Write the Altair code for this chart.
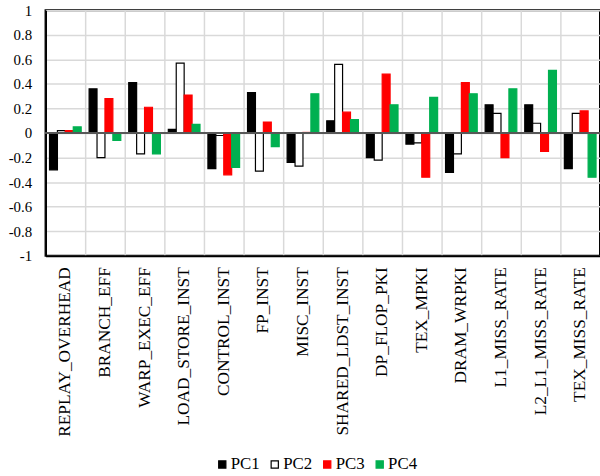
import altair as alt
import pandas as pd

# PCA loadings of GPU performance metrics on the first four principal components
metrics = [
    "REPLAY_OVERHEAD", "BRANCH_EFF", "WARP_EXEC_EFF", "LOAD_STORE_INST",
    "CONTROL_INST", "FP_INST", "MISC_INST", "SHARED_LDST_INST",
    "DP_FLOP_PKI", "TEX_MPKI", "DRAM_WRPKI", "L1_MISS_RATE",
    "L2_L1_MISS_RATE", "TEX_MISS_RATE",
]
pc1 = [-0.30, 0.36, 0.41, 0.03, -0.29, 0.33, -0.24, 0.10, -0.20, -0.09, -0.32, 0.23, 0.23, -0.29]
pc2 = [0.02, -0.20, -0.17, 0.57, -0.02, -0.31, -0.27, 0.56, -0.22, -0.08, -0.17, 0.16, 0.08, 0.16]
pc3 = [0.02, 0.28, 0.21, 0.31, -0.34, 0.09, 0.005, 0.17, 0.48, -0.36, 0.41, -0.20, -0.15, 0.18]
pc4 = [0.05, -0.06, -0.17, 0.07, -0.28, -0.11, 0.32, 0.11, 0.23, 0.29, 0.32, 0.36, 0.51, -0.36]

components = ["PC1", "PC2", "PC3", "PC4"]
fills = ["#000000", "#ffffff", "#ff0000", "#00b050"]
strokes = ["#000000", "#000000", "#ff0000", "#00b050"]
y_ticks = [-1, -0.8, -0.6, -0.4, -0.2, 0, 0.2, 0.4, 0.6, 0.8, 1]

rows = []
for comp, vals in zip(components, [pc1, pc2, pc3, pc4]):
    for m, v in zip(metrics, vals):
        rows.append({"metric": m, "component": comp, "loading": v})
df = pd.DataFrame(rows)

serif = "Liberation Serif"

legend_style = dict(
    title=None,
    orient="none",
    direction="horizontal",
    legendX=170,
    legendY=450,
    symbolType="square",
    symbolSize=53,
    symbolStrokeWidth=1.2,
    labelFont=serif,
    labelFontSize=17,
    labelColor="black",
    labelOffset=0,
    columnPadding=6,
    labelOverlap=False,
)

y_axis = alt.Axis(
    values=y_ticks,
    labelExpr="datum.value + ''",
    labelFont=serif,
    labelFontSize=15,
    labelColor="black",
    labelPadding=14,
    labelOverlap=False,
    labelFlush=False,
    labelBound=False,
    ticks=False,
    grid=True,
    gridColor="#d9d9d9",
    gridWidth=1.5,
    domainColor="black",
    domainWidth=2,
)

bars = alt.Chart(df).mark_bar(strokeWidth=1.2).encode(
    x=alt.X(
        "metric:N",
        sort=metrics,
        title=None,
        scale=alt.Scale(paddingInner=0, paddingOuter=0),
        axis=alt.Axis(
            bandPosition=0,
            labelAngle=-90,
            labelFont=serif,
            labelFontSize=17.5,
            labelColor="black",
            labelPadding=11,
            labelOverlap=False,
            labelBound=False,
            ticks=False,
            grid=True,
            gridColor="#d9d9d9",
            gridWidth=1.5,
            domainColor="black",
            domainWidth=2,
        ),
    ),
    xOffset=alt.XOffset(
        "component:N",
        sort=components,
        scale=alt.Scale(paddingInner=0, paddingOuter=0.5),
    ),
    y=alt.Y(
        "loading:Q",
        title=None,
        scale=alt.Scale(domain=[-1, 1], nice=False),
        axis=y_axis,
    ),
    fill=alt.Fill(
        "component:N",
        sort=components,
        scale=alt.Scale(domain=components, range=fills),
        legend=alt.Legend(**legend_style),
    ),
    stroke=alt.Stroke(
        "component:N",
        sort=components,
        scale=alt.Scale(domain=components, range=strokes),
        legend=alt.Legend(**legend_style),
    ),
)

# horizontal axis line crossing at zero
zero_line = alt.Chart(df).mark_rule(color="#595959", strokeWidth=1.2).encode(
    y=alt.Y(datum=0, title=None, axis=y_axis)
)

chart = (
    alt.layer(bars, zero_line)
    .properties(
        width=560,
        height=248,
        autosize=alt.AutoSizeParams(type="none"),
        padding={"left": 46, "top": 8, "right": 0, "bottom": 220},
        background="white",
    )
    .configure_view(stroke="black", strokeWidth=2)
)

chart.save("out.html", embed_options={"renderer": "svg", "actions": False})
